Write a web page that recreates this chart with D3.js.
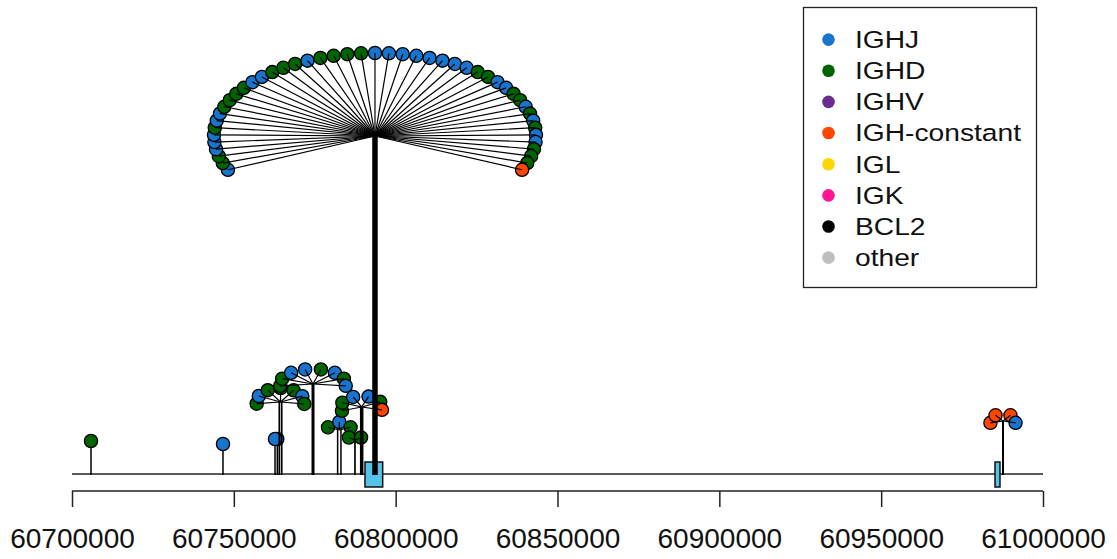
<!DOCTYPE html>
<html>
<head>
<meta charset="utf-8">
<script src="https://cdn.jsdelivr.net/npm/d3@7"></script>
<style>
  html, body { margin: 0; padding: 0; background: #ffffff; }
  svg { display: block; font-family: "Liberation Sans", Arial, sans-serif; }
</style>
</head>
<body>
<svg id="chart" width="1117" height="559"></svg>
<script>
// ---- data -------------------------------------------------------------
const categories = ["IGHJ", "IGHD", "IGHV", "IGH-constant", "IGL", "IGK", "BCL2", "other"];
const categoryColors = ["#1874CD", "#006400", "#6A2C91", "#FF4500", "#FFD700", "#FF1493", "#000000", "#BEBEBE"];
const categoryCodes = { J: "IGHJ", D: "IGHD", V: "IGHV", C: "IGH-constant", L: "IGL", K: "IGK", B: "BCL2", O: "other" };

const tickValues = [60700000, 60750000, 60800000, 60850000, 60900000, 60950000, 61000000];

// breakpoint sites: genomic coordinate(s) of the stem, stem height, partner of each event
const sitePositions = [
  [60705870],
  [60746650],
  [60763430],
  [60762720],
  [60764050, 60764790],
  [60774460],
  [60782070, 60783100],
  [60787430],
  [60789500],
  [60793610],
  [60987640]
];
const siteHeights = [8.25, 7.5, 8.75, 8.75, 18, 22.5, 11, 8.5, 16.75, 84.5, 13.25];
const sitePartners = [
  "D",
  "J",
  "J",
  "J",
  "DJDDDJD",
  "DDJJDJDJ",
  "DJD",
  "DD",
  "DDJJDC",
  "JDDJJJDJJDDDDJJDDDJDDDDJJJJJJJJDDJJDDJDJDJJDDDC",
  "CCCJ"
];

// annotated gene features on the track
const featureStarts = [60790520, 60985170];
const featureEnds   = [60795990, 60986710];

// ---- layout -----------------------------------------------------------
const trackY = 474, axisY = 491;
const x = d3.scaleLinear().domain([60700000, 61000000]).range([72, 1043]);
const y = d3.scaleLinear().domain([0, 100]).range([trackY, trackY - 400]);
const color = d3.scaleOrdinal().domain(categories).range(categoryColors);

// fan shape per site: radii (px) and start/end angle (deg) of the arc of events
const fanLayout = [
  null, null, null, null,
  { rx: 24, ry: 14, a0: 187, a1: -8 },
  { rx: 33, ry: 15, a0: 187, a1: -7 },
  { rx: 12, ry: 8, a0: 160, a1: 20 },
  { rx: 7, ry: 5, a0: 150, a1: 30 },
  { rx: 21, ry: 11, a0: 200, a1: -15 },
  { rx: 161, ry: 83, a0: 204, a1: -24 },
  { rx: 13, ry: 7, a0: 195, a1: -15 }
];
const stemWidths = [1.5, 1.5, 1.5, 1.5, 1.7, 3, 1.5, 1.7, 3.5, 5.5, 2];
const R = 6.6;

const svg = d3.select("#chart");

// track line
svg.append("line")
  .attr("x1", x.range()[0]).attr("x2", x.range()[1])
  .attr("y1", trackY).attr("y2", trackY)
  .attr("stroke", "#222").attr("stroke-width", 1.5);

// gene features
svg.append("g").selectAll("rect")
  .data(featureStarts.map((s, i) => ({ s, e: featureEnds[i] })))
  .join("rect")
  .attr("x", d => x(d.s))
  .attr("width", d => x(d.e) - x(d.s))
  .attr("y", trackY - 12)
  .attr("height", 25)
  .attr("fill", "#55C3E8")
  .attr("stroke", "#111")
  .attr("stroke-width", 1.5);

// sites
const sites = sitePositions.map((ps, i) => {
  const cx = x(d3.mean(ps));
  const cy = y(siteHeights[i]);
  const cats = sitePartners[i].split("").map(c => categoryCodes[c]);
  const f = fanLayout[i];
  const n = cats.length;
  const events = cats.map((cat, k) => {
    if (!f || n === 1) return { cat, px: cx, py: cy };
    const t = (f.a0 + (f.a1 - f.a0) * k / (n - 1)) * Math.PI / 180;
    return { cat, px: cx + f.rx * Math.cos(t), py: cy - f.ry * Math.sin(t) };
  });
  return { ps, cx, cy, events, fan: !!f, w: stemWidths[i] };
});

sites.forEach(s => {
  const g = svg.append("g");
  // stems
  g.selectAll("line.stem").data(s.ps).join("line")
    .attr("class", "stem")
    .attr("x1", p => s.ps.length > 1 ? x(p) : s.cx)
    .attr("x2", p => s.ps.length > 1 ? x(p) : s.cx)
    .attr("y1", trackY + 1)
    .attr("y2", s.cy)
    .attr("stroke", "#000")
    .attr("stroke-width", s.w);
  // event heads
  g.selectAll("circle").data(s.events).join("circle")
    .attr("cx", d => d.px).attr("cy", d => d.py).attr("r", R)
    .attr("fill", d => color(d.cat))
    .attr("stroke", "#000").attr("stroke-width", 1.3);
  // spokes from the stem top to each event
  if (s.fan) {
    g.selectAll("line.spoke").data(s.events).join("line")
      .attr("class", "spoke")
      .attr("x1", s.cx).attr("y1", s.cy)
      .attr("x2", d => d.px).attr("y2", d => d.py)
      .attr("stroke", "#000").attr("stroke-width", 1.2);
  }
});

// genomic axis
const axis = svg.append("g").attr("transform", `translate(0,${axisY})`)
  .call(d3.axisBottom(x).tickValues(tickValues).tickSize(16).tickFormat(d3.format("d")));
axis.select(".domain").attr("stroke", "#222").attr("stroke-width", 1.5).attr("d", `M${x.range()[0]},0H${x.range()[1]}`);
axis.selectAll(".tick line").attr("stroke", "#222").attr("stroke-width", 1.5);
axis.selectAll(".tick text")
  .attr("y", 57).attr("dy", 0)
  .attr("font-size", 28)
  .attr("font-family", "Liberation Sans, Arial, sans-serif")
  .attr("fill", "#111");

// legend
const lg = svg.append("g");
lg.append("rect")
  .attr("x", 803.5).attr("y", 7.5).attr("width", 233).attr("height", 280)
  .attr("fill", "#fff").attr("stroke", "#222").attr("stroke-width", 1.3);
const items = lg.selectAll("g.item").data(categories).join("g")
  .attr("class", "item")
  .attr("transform", (d, i) => `translate(0,${39.6 + i * 31.15})`);
items.append("circle")
  .attr("cx", 828.5).attr("cy", 0).attr("r", 6.3)
  .attr("fill", d => color(d));
items.append("text")
  .attr("transform", "translate(855,8.4) scale(1.2,1)")
  .attr("font-size", 23.5)
  .attr("fill", "#111")
  .text(d => d);
</script>
</body>
</html>
